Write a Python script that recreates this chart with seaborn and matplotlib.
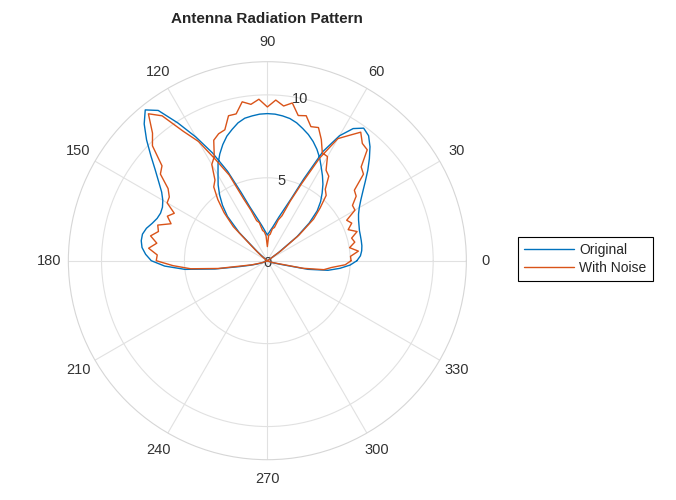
import numpy as np
import pandas as pd
import seaborn as sns
import matplotlib.pyplot as plt
import matplotlib.transforms as mtransforms

# angles in degrees, one sample every 3 degrees
theta_deg = np.arange(0, 360, 3)

# original pattern (negative values are drawn on the opposite side)
r_original = [
    5.40, 5.62, 5.72, 5.77, 5.79, 5.81, 5.84, 5.92, 6.02, 6.17,
    6.40, 6.72, 7.12, 7.60, 8.15, 8.70, 9.25, 9.70, 9.88, 9.50,
    8.70, 7.40, 5.40, 4.00, 3.25, 2.75, 2.35, 2.05, 1.85, 1.68,
    1.55, 1.70, 1.90, 2.15, 2.45, 2.85, 3.40, 4.40, 5.90, 7.30,
    8.60, 9.90, 11.20, 11.70, 11.10, 10.30, 9.45, 8.70, 8.10, 7.60,
    7.28, 7.10, 7.05, 7.12, 7.30, 7.55, 7.70, 7.70, 7.60, 7.35,
    7.00, 6.20, 5.00, 3.20, 1.70, 1.05, 0.65, 0.35, 0.15, 0.03,
    0.00, -0.10, -0.80, -2.30, -3.40, -4.25, -4.80, -5.25, -5.70, -6.10,
    -6.50, -6.95, -7.35, -7.70, -8.00, -8.25, -8.50, -8.68, -8.78, -8.85,
    -8.87, -8.85, -8.78, -8.70, -8.50, -8.20, -7.90, -7.50, -7.05, -6.55,
    -5.95, -5.45, -4.90, -4.30, -3.60, -2.40, -0.80, -0.15, -0.02, 0.00,
    0.00, 0.02, 0.10, 0.30, 0.50, 0.90, 2.50, 3.70, 4.40, 5.00,
]

# noise
noise = [
    -0.35, -0.60, -0.20, -0.75, -0.40, -0.55, -0.15, -0.70, -0.45, -0.80,
    -0.30, -0.60, -0.50, -0.85, -0.35, -0.70, -0.25, -0.60, -0.30, -0.50,
    -0.20, -0.45, -0.30, -0.15, -0.40, -0.20, -0.30, -0.10, -0.25, -0.15,
    -0.70, -0.20, -0.15, -0.30, -0.10, -0.35, -0.20, -0.40, -0.25, -0.50,
    -0.30, -0.60, -0.40, -0.30, -0.75, -0.50, -0.90, -0.40, -0.70, -0.55,
    -0.30, -0.80, -0.45, -0.90, -0.35, -0.75, -0.50, -0.95, -0.40, -0.70,
    -0.30, -0.50, -0.35, -0.20, -0.25, -0.10, -0.15, -0.05, -0.05, -0.02,
    -0.05, -0.10, -0.20, -0.15, -0.35, -0.25, -0.50, -0.30, -0.60, -0.40,
    -0.75, -0.35, -0.65, -0.90, -0.50, -0.80, -0.45, -0.95, -0.60, -0.85,
    -0.40, -0.90, -0.70, -1.00, -0.55, -0.85, -0.40, -0.70, -0.90, -0.50,
    -0.75, -0.35, -0.60, -0.45, -0.30, -0.50, -0.20, -0.35, -0.15, -0.10,
    -0.05, -0.02, -0.03, -0.05, -0.10, -0.20, -0.30, -0.25, -0.50, -0.30,
]

theta_labels = ['0', '30', '60', '90', '120', '150', '180',
                '210', '240', '270', '300', '330']

r_noisy = np.array(r_original) + np.array(noise)


def polar_frame(r, label):
    r = np.append(r, r[0])
    th = np.append(theta_deg, 360)
    th = np.where(r < 0, th + 180, th)
    return pd.DataFrame({'theta': np.deg2rad(th), 'r': np.abs(r), 'series': label})


df = pd.concat([polar_frame(np.array(r_original), 'Original'),
                polar_frame(r_noisy, 'With Noise')], ignore_index=True)

sns.set_theme(style='white')
plt.rcParams['font.family'] = ['Liberation Sans', 'DejaVu Sans']

fig = plt.figure(figsize=(6.76, 5.0), dpi=100)
ax = fig.add_axes([0.101, 0.0806, 0.589, 0.796], projection='polar')

sns.lineplot(data=df, x='theta', y='r', hue='series', sort=False, estimator=None,
             palette={'Original': '#0072BD', 'With Noise': '#D95319'},
             linewidth=1.0, ax=ax)

ax.set_rlim(0, 12)
ax.set_rticks([0, 5, 10])
ax.set_rlabel_position(80)
ax.set_thetagrids(range(0, 360, 30), labels=theta_labels)
ax.tick_params(axis='x', pad=1, labelsize=10.5, colors='#333333')
ax.tick_params(axis='y', labelsize=10.5, colors='#333333')
shift = mtransforms.ScaledTranslation(-4 / 100, -9 / 100, fig.dpi_scale_trans)
for lab in ax.get_yticklabels():
    lab.set_transform(lab.get_transform() + shift)
ax.grid(True, color='#e1e1e1', linewidth=0.8)
ax.spines['polar'].set_color('#d6d6d6')
ax.spines['polar'].set_linewidth(0.8)
ax.set_xlabel('')
ax.set_ylabel('')

handles, labels = ax.get_legend_handles_labels()
ax.legend(handles, labels, loc='center left', bbox_to_anchor=(0.756, 0.482),
          bbox_transform=fig.transFigure, fancybox=False, edgecolor='black',
          fontsize=10, handlelength=3.6, borderpad=0.45, labelspacing=0.25,
          handletextpad=0.35, framealpha=1)
ax.get_legend().get_frame().set_linewidth(0.8)

fig.text(0.395, 0.962, 'Antenna Radiation Pattern', ha='center', va='center',
         fontsize=11, fontweight='bold')

fig.savefig('out.png', dpi=100)
